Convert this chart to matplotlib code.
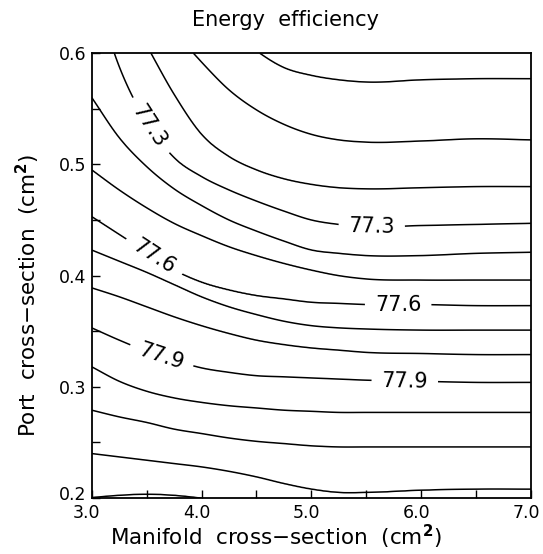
import numpy as np
import matplotlib
matplotlib.use("Agg")
from matplotlib import pyplot as plt
from matplotlib.transforms import ScaledTranslation

# x positions (manifold cross-section, cm2) where each contour line was read
x_stations = [3.0, 3.25, 3.5, 3.75, 4.0, 4.25, 4.5, 4.75, 5.0, 5.25, 5.5, 6.0, 6.5, 7.0]

# contour levels (energy efficiency, %)
levels = [76.9, 77.0, 77.1, 77.2, 77.3, 77.4, 77.5, 77.6, 77.7, 77.8, 77.9, 78.0, 78.1, 78.2, 78.3, 78.4]

# port cross-section (cm2) of each level at each x station
# (values above 0.6 / below 0.2 are estimates of where the line runs outside the frame)
y_769 = [0.860, 0.830, 0.800, 0.770, 0.745, 0.720, 0.700, 0.685, 0.670, 0.660, 0.655, 0.655, 0.655, 0.655]
y_770 = [0.750, 0.720, 0.690, 0.665, 0.643, 0.622, 0.602, 0.587, 0.580, 0.576, 0.574, 0.576, 0.577, 0.577]
y_771 = [0.710, 0.680, 0.650, 0.620, 0.592, 0.567, 0.549, 0.536, 0.527, 0.522, 0.520, 0.521, 0.523, 0.522]
y_772 = [0.690, 0.650, 0.607, 0.563, 0.527, 0.507, 0.495, 0.487, 0.482, 0.479, 0.478, 0.479, 0.480, 0.480]
y_773 = [0.665, 0.588, 0.538, 0.506, 0.489, 0.477, 0.467, 0.458, 0.450, 0.446, 0.444, 0.445, 0.446, 0.447]
y_774 = [0.560, 0.524, 0.498, 0.478, 0.463, 0.450, 0.440, 0.431, 0.423, 0.420, 0.418, 0.418, 0.420, 0.421]
y_775 = [0.495, 0.477, 0.461, 0.447, 0.436, 0.426, 0.418, 0.411, 0.405, 0.400, 0.397, 0.396, 0.396, 0.396]
y_776 = [0.453, 0.437, 0.421, 0.405, 0.394, 0.387, 0.382, 0.379, 0.376, 0.375, 0.374, 0.374, 0.373, 0.373]
y_777 = [0.423, 0.413, 0.403, 0.392, 0.381, 0.372, 0.365, 0.359, 0.355, 0.353, 0.352, 0.351, 0.351, 0.351]
y_778 = [0.389, 0.381, 0.372, 0.363, 0.355, 0.348, 0.342, 0.338, 0.335, 0.333, 0.331, 0.330, 0.329, 0.329]
y_779 = [0.353, 0.342, 0.332, 0.324, 0.317, 0.313, 0.310, 0.309, 0.308, 0.307, 0.306, 0.305, 0.304, 0.304]
y_780 = [0.318, 0.305, 0.296, 0.290, 0.286, 0.283, 0.281, 0.279, 0.278, 0.277, 0.277, 0.277, 0.277, 0.277]
y_781 = [0.279, 0.273, 0.268, 0.262, 0.258, 0.254, 0.251, 0.249, 0.247, 0.246, 0.246, 0.246, 0.246, 0.246]
y_782 = [0.240, 0.237, 0.234, 0.231, 0.228, 0.224, 0.219, 0.213, 0.208, 0.205, 0.205, 0.207, 0.208, 0.208]
y_783 = [0.2005, 0.2025, 0.2035, 0.2025, 0.2000, 0.197, 0.194, 0.190, 0.186, 0.184, 0.184, 0.186, 0.187, 0.187]
y_784 = [0.150, 0.150, 0.150, 0.150, 0.150, 0.150, 0.150, 0.150, 0.150, 0.150, 0.150, 0.150, 0.150, 0.150]

plain_levels = [77.0, 77.1, 77.2, 77.4, 77.5, 77.7, 77.8, 78.0, 78.1, 78.2, 78.3]
label_levels = [77.3, 77.6, 77.9]
# where the labels sit (x, y)
label_pos = [(3.54, 0.535), (3.57, 0.417), (3.63, 0.326),
             (5.55, 0.447), (5.79, 0.373), (5.85, 0.304)]

x_ticks = [3.0, 4.0, 5.0, 6.0, 7.0]
x_ticklabels = ["3.0", "4.0", "5.0", "6.0", "7.0"]
y_ticks = [0.2, 0.3, 0.4, 0.5, 0.6]
y_ticklabels = ["0.2", "0.3", "0.4", "0.5", "0.6"]


def hermite(xs, ys, xf):
    # smooth curve through the read points (cubic hermite)
    xs = np.asarray(xs, float)
    ys = np.asarray(ys, float)
    m = np.gradient(ys, xs)
    i = np.clip(np.searchsorted(xs, xf, side="right") - 1, 0, len(xs) - 2)
    h = xs[i + 1] - xs[i]
    t = (xf - xs[i]) / h
    h00 = 2 * t**3 - 3 * t**2 + 1
    h10 = t**3 - 2 * t**2 + t
    h01 = -2 * t**3 + 3 * t**2
    h11 = t**3 - t**2
    return h00 * ys[i] + h10 * h * m[i] + h01 * ys[i + 1] + h11 * h * m[i + 1]


all_lines = [y_769, y_770, y_771, y_772, y_773, y_774, y_775, y_776,
             y_777, y_778, y_779, y_780, y_781, y_782, y_783, y_784]

# build the field from the read contour positions
xf = np.linspace(3.0, 7.0, 500)
yf = np.linspace(0.2, 0.6, 500)
curves = np.array([hermite(x_stations, ln, xf) for ln in all_lines])  # (nlev, nx)
Z = np.zeros((len(yf), len(xf)))
lev = np.array(levels)
for j in range(len(xf)):
    col = curves[:, j]
    Z[:, j] = np.interp(yf, col[::-1], lev[::-1])

fig = plt.figure(figsize=(5.43, 5.54), dpi=100)
ax = fig.add_axes([0.169, 0.101, 0.809, 0.803])

ax.contour(xf, yf, Z, levels=plain_levels, colors="black", linewidths=1.1)
cs = ax.contour(xf, yf, Z, levels=label_levels, colors="black", linewidths=1.1)
ax.clabel(cs, inline=True, fmt="%.1f", fontsize=15,
          manual=label_pos, inline_spacing=10)

ax.set_xlim(3.0, 7.0)
ax.set_ylim(0.2, 0.6)
ax.set_xticks(x_ticks)
ax.set_xticklabels(x_ticklabels)
ax.set_yticks(y_ticks)
ax.set_yticklabels(y_ticklabels)
ax.set_xticks(np.arange(3.5, 7.0, 1.0), minor=True)
ax.set_yticks(np.arange(0.25, 0.6, 0.1), minor=True)
ax.tick_params(which="both", direction="in", length=6, width=1.0,
               top=False, right=False, labelsize=12.5, pad=4)
# x tick labels sit a little left of their ticks in the original
shift = ScaledTranslation(-5 / 100, 0, fig.dpi_scale_trans)
for t in ax.get_xticklabels():
    t.set_transform(t.get_transform() + shift)
# the 0.2 label is lifted a bit, clear of the 3.0 below it
lift = ScaledTranslation(0, 5 / 100, fig.dpi_scale_trans)
ylabs = ax.get_yticklabels()
ylabs[0].set_transform(ylabs[0].get_transform() + lift)
for s in ax.spines.values():
    s.set_linewidth(1.3)

fig.text(0.525, 0.964, "Energy  efficiency", ha="center", va="center", fontsize=15)
fig.text(0.508, 0.031, r"Manifold  cross$-$section  (cm$^{\mathbf{2}}$)",
         ha="center", va="center", fontsize=15.5)
fig.text(0.052, 0.467, r"Port  cross$-$section  (cm$^{\mathbf{2}}$)",
         ha="center", va="center", rotation=90, fontsize=15.5)

plt.savefig("out.png", dpi=100)
